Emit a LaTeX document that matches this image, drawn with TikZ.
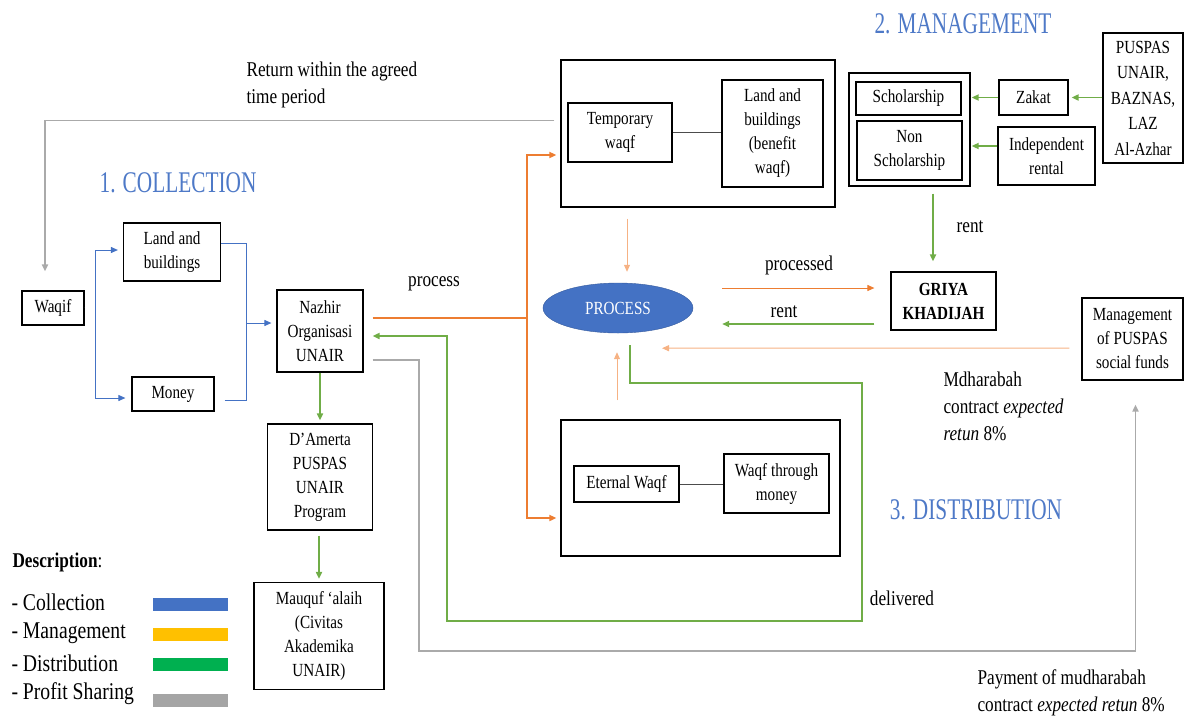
\documentclass[tikz,border=0pt]{standalone}
\usepackage{fontspec}
\setmainfont{Liberation Serif}[FakeStretch=0.82]
\newfontfamily\headfont{Liberation Serif}[FakeStretch=0.71]
\usetikzlibrary{positioning,arrows.meta,shapes.geometric}
\definecolor{collectblue}{RGB}{68,114,196}
\definecolor{headblue}{RGB}{78,121,199}
\definecolor{processorange}{RGB}{237,125,49}
\definecolor{paleorange}{RGB}{246,178,132}
\definecolor{deliverygreen}{RGB}{112,173,71}
\definecolor{profitgray}{RGB}{170,170,170}
\definecolor{managementyellow}{RGB}{255,192,0}
\definecolor{distributiongreen}{RGB}{0,176,80}
\definecolor{legendgray}{RGB}{165,165,165}
\tikzset{%
  box/.style={draw, line width=1.2pt, align=center, inner sep=1pt, font=\fontsize{18.5}{24}\selectfont},% plain box
  frame/.style={draw, line width=1.3pt, inner sep=0pt},% outer frame
  heading/.style={text=headblue, font=\headfont\fontsize{30}{32}\selectfont},% stage titles
  note/.style={align=left, font=\fontsize{21}{27}\selectfont},% text at the flows
  collection/.style={collectblue, line width=1pt},
  processflow/.style={processorange, line width=2pt},
  paleflow/.style={paleorange, line width=1pt},
  delivery/.style={deliverygreen, line width=1.8pt},
  profit/.style={profitgray, line width=1.8pt},
  arrowend/.style={-{Triangle[length=7pt,width=6pt]}}
}

\begin{document}
\begin{tikzpicture}[x=1pt, y=-1pt]
\useasboundingbox (0,0) rectangle (1184,716);

\node[heading] (h1) at (178,183) {1. COLLECTION};
\node[heading] (h2) at (963,24) {2. MANAGEMENT};
\node[heading] (h3) at (976,510) {3. DISTRIBUTION};

% collection
\node[box, minimum width=62pt, minimum height=34pt] (waqif) at (53,308) {Waqif};
\node[box, minimum width=97pt, minimum height=58pt] (landb) at (172,252) {Land and\\buildings};
\node[box, minimum width=82pt, minimum height=34pt] (money) at (173,394) {Money};
\node[box, minimum width=86pt, minimum height=82pt] (nazhir) at (320,331) {Nazhir\\Organisasi\\UNAIR};
\node[box, minimum width=105pt, minimum height=106pt] (amerta) at (320,477) {D’Amerta\\PUSPAS\\UNAIR\\Program};
\node[box, minimum width=130pt, minimum height=107pt] (mauquf) at (319,636) {Mauquf ‘alaih\\(Civitas\\Akademika\\UNAIR)};

% waqf kinds
\node[frame, minimum width=274pt, minimum height=147pt] (tempbox) at (698,133.5) {};
\node[box, minimum width=104pt, minimum height=59pt] (temp) at (620,132.5) {Temporary\\waqf};
\node[box, minimum width=101pt, minimum height=107pt] (landbw) at (772.5,133.5) {Land and\\buildings\\(benefit\\waqf)};
\node[frame, minimum width=279pt, minimum height=136pt] (eternalbox) at (700.5,488) {};
\node[box, minimum width=105pt, minimum height=36pt] (eternal) at (626.5,484) {Eternal Waqf};
\node[box, minimum width=105pt, minimum height=59pt] (wmoney) at (776.5,483.5) {Waqf through\\money};
\draw[line width=0.8pt, black!70] (temp.east) -- (temp.east -| landbw.west);
\draw[line width=0.8pt, black!70] (eternal.east) -- (eternal.east -| wmoney.west);

\node[ellipse, fill=collectblue, draw=collectblue!80!black, minimum width=150pt, minimum height=50pt,
  text=white, font=\fontsize{18.5}{20}\selectfont] (process) at (618,308) {PROCESS};

% management
\node[frame, minimum width=121pt, minimum height=113pt] (mgmt) at (909.5,129.5) {};
\node[box, minimum width=105pt, minimum height=33pt] (schol) at (908.5,98.5) {Scholarship};
\node[box, minimum width=105pt, minimum height=59pt] (nonschol) at (909.5,150.5) {Non\\Scholarship};
\node[box, minimum width=69pt, minimum height=35pt] (zakat) at (1033.5,97.5) {Zakat};
\node[box, minimum width=97pt, minimum height=58pt] (indep) at (1046.5,156) {Independent\\rental};
\node[box, minimum width=80pt, minimum height=130pt, font=\fontsize{18.5}{25.5}\selectfont] (puspas) at (1143,98) {PUSPAS\\UNAIR,\\BAZNAS,\\LAZ\\Al-Azhar};
\node[box, minimum width=105pt, minimum height=58pt, font=\bfseries\fontsize{18.5}{24}\selectfont] (griya) at (943.5,301) {GRIYA\\KHADIJAH};
\node[box, minimum width=101pt, minimum height=82pt] (mpuspas) at (1132.5,339) {Management\\of PUSPAS\\social funds};

% texts at the flows
\node[note, anchor=west] (treturn) at (243,85) {Return within the agreed\\time period};
\node[note] (tprocess) at (434,284) {process};
\node[note] (tprocessed) at (799,265) {processed};
\node[note] (trent) at (784,312) {rent};
\node[note] (trentdown) at (970,227) {rent};
\node[note] (tdelivered) at (902,598) {delivered};
\node[note, anchor=west] (tmdh) at (940,406) {Mdharabah\\contract \textit{expected}\\\textit{retun} 8\%};
\node[note, anchor=west] (tpay) at (974,692.5) {Payment of mudharabah\\contract \textit{expected retun} 8\%};

% blue flows
\coordinate (fork) at (95,308);
\coordinate (join) at (246,323);
\draw[collection, double, double distance=1.5pt, line width=0.6pt] (waqif.east) -- (fork);
\draw[collection, arrowend] (fork) |- ([xshift=-5pt,yshift=2pt]landb.west);
\draw[collection, arrowend] (fork) |- ([xshift=-6pt,yshift=-4pt]money.west);
\draw[collection] ([yshift=9pt]landb.east) -| (join);
\draw[collection] ([xshift=10pt,yshift=-6pt]money.east) -| (join);
\draw[collection, arrowend] (join) -- ([xshift=-5pt]nazhir.west |- join);

% orange flows
\coordinate (osplit) at (527,318);
\draw[processflow] ([xshift=9pt,yshift=13pt]nazhir.east) -- (osplit);
\draw[processflow, arrowend] (osplit) |- ([xshift=-4pt,yshift=-21.5pt]tempbox.west);
\draw[processflow, arrowend] (osplit) |- ([xshift=-4pt,yshift=-30pt]eternalbox.west);
\draw[paleflow, arrowend] ([xshift=-71pt,yshift=-11pt]tempbox.south) -- ([xshift=9pt,yshift=11pt]process.north);
\draw[paleflow, arrowend] ([xshift=-83.5pt,yshift=19pt]eternalbox.north) -- ([xshift=-1pt,yshift=-19pt]process.south);
\draw[paleflow, arrowend] ([xshift=-12pt,yshift=-9pt]mpuspas.west) -- ([xshift=44pt,yshift=-15pt]process.south);
\draw[processorange, line width=1pt, arrowend] ([xshift=29pt,yshift=20pt]process.east) -- ([xshift=-16pt,yshift=13pt]griya.west);

% green flows
\draw[delivery, arrowend] ([xshift=-16pt,yshift=-23pt]griya.west) -- ([xshift=29pt,yshift=-16pt]process.east);
\draw[delivery, arrowend] ([xshift=23.5pt,yshift=-7pt]mgmt.south) -- ([xshift=-10.5pt,yshift=10pt]griya.north);
\draw[delivery, arrowend] (puspas.west |- zakat.east) -- ([xshift=3pt]zakat.east);
\draw[delivery, arrowend] (zakat.west) -- ([xshift=1pt]mgmt.east |- zakat.west);
\draw[delivery, arrowend] ([yshift=10pt]indep.west) -- ([yshift=10pt,xshift=1pt]indep.west -| mgmt.east);
\draw[delivery, arrowend] (nazhir.south) -- ([yshift=3pt]amerta.north);
\draw[delivery, arrowend] ([yshift=-5pt]amerta.south -| mauquf.north) -- ([yshift=3pt]mauquf.north);
\coordinate (dA) at (630,383);
\coordinate (dB) at (862,621);
\coordinate (dC) at (447,336);
\draw[delivery, arrowend] ([xshift=12pt,yshift=-12pt]process.south) -- (dA) -| (dB) -| (dC)
  -- ([xshift=9pt,yshift=-5pt]nazhir.east);

% gray flows
\coordinate (pA) at (419,651);
\draw[profit, arrowend] ([xshift=-6pt,yshift=13pt]tempbox.west) -| ([xshift=-8pt,yshift=19pt]waqif.north);
\draw[profit, arrowend] ([xshift=9pt,yshift=-29pt]nazhir.east) -| (pA) -| ([xshift=3pt,yshift=-24pt]mpuspas.south);

% legend
\node[anchor=west, font=\fontsize{21}{24}\selectfont] (desc) at (9,562) {\textbf{Description}:};
\foreach \item/\col/\ty/\by in {Collection/collectblue/602/604.5, Management/managementyellow/633/634.5,
  Distribution/distributiongreen/663/664.5, Profit Sharing/legendgray/694/700}{
  \node[anchor=west, font=\fontsize{24}{26}\selectfont] (leg\ty) at (8,\ty) {- \item};
  \fill[\col] (153,\by-6.5) rectangle (228,\by+6.5);
}
\end{tikzpicture}
\end{document}
